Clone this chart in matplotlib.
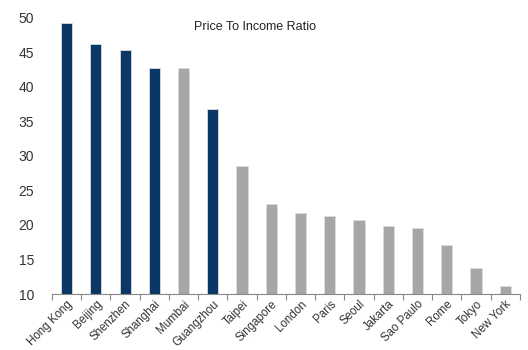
import matplotlib
matplotlib.use('Agg')
import matplotlib.pyplot as plt
import numpy as np

plt.rcParams['font.family'] = ['Liberation Sans', 'DejaVu Sans']

cities = ['Hong Kong', 'Beijing', 'Shenzhen', 'Shanghai', 'Mumbai', 'Guangzhou',
          'Taipei', 'Singapore', 'London', 'Paris', 'Seoul', 'Jakarta',
          'Sao Paulo', 'Rome', 'Tokyo', 'New York']
ratios = [49.3, 46.2, 45.3, 42.7, 42.7, 36.8, 28.6, 23.0, 21.8, 21.3, 20.7,
          19.9, 19.5, 17.1, 13.8, 11.1]
is_china = [True, True, True, True, False, True, False, False, False, False,
            False, False, False, False, False, False]

navy = '#0a3766'
grey = '#a6a6a6'
colors = [navy if c else grey for c in is_china]

fig = plt.figure(figsize=(5.28, 3.5), dpi=100)
ax = fig.add_axes([0.0985, 0.16, 0.886, 0.789])

x = np.arange(len(cities))
ax.bar(x, ratios, width=0.38, color=colors, edgecolor='#dcdcdc', linewidth=0.6)

ax.set_ylim(10, 50)
ax.set_xlim(-0.5, len(cities) - 0.5)
ax.set_yticks(range(10, 51, 5))
ax.tick_params(axis='y', length=0, labelsize=10, labelcolor='#333333', pad=13)

# ticks between categories, labels under the bars
ax.set_xticks(np.arange(-0.5, len(cities), 1.0))
ax.set_xticklabels([])
ax.set_xticks(x, minor=True)
ax.set_xticklabels(cities, minor=True, rotation=45, ha='right',
                   rotation_mode='anchor', fontsize=8.3, color='#333333')
ax.tick_params(axis='x', which='major', length=4, color='#888888', direction='out')
ax.tick_params(axis='x', which='minor', length=0, pad=3)

for s in ['top', 'right', 'left']:
    ax.spines[s].set_visible(False)
ax.spines['bottom'].set_color('#888888')
ax.spines['bottom'].set_linewidth(0.8)

fig.text(0.483, 0.922, 'Price To Income Ratio', ha='center', va='center',
         fontsize=9, color='#222222')

fig.savefig('out.png', dpi=100)
